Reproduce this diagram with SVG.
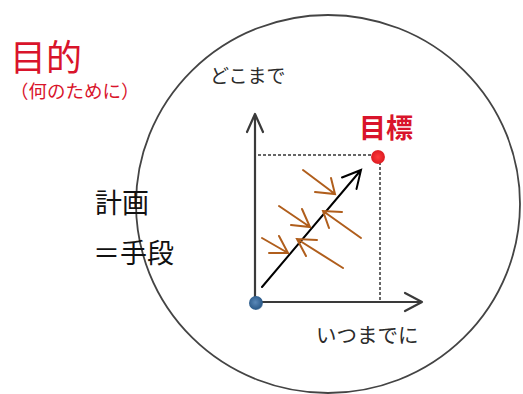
<svg xmlns="http://www.w3.org/2000/svg" width="523" height="394" viewBox="0 0 523 394">
<style>
.jp{font-family:"Noto Sans CJK JP","Noto Sans CJK SC",sans-serif}
.red{fill:#D9142B}
.dark{fill:#2b2b2b}
.axis{stroke:#3a3a3a;stroke-width:2.2;fill:none;stroke-linecap:round;stroke-linejoin:round}
.dot{stroke:#666;stroke-width:2;stroke-dasharray:3 2;fill:none}
.br{stroke:#B05E1C;stroke-width:2;fill:none;stroke-linecap:round}
.blk{stroke:#000;stroke-width:2;fill:none;stroke-linecap:round}
</style>
<defs>
<radialGradient id="gb" cx="0.45" cy="0.45" r="0.6">
<stop offset="0" stop-color="#5A88B8"/>
<stop offset="0.8" stop-color="#2E5D8C"/>
<stop offset="1" stop-color="#2E5D8C" stop-opacity="0.5"/>
</radialGradient>
<radialGradient id="gr" cx="0.5" cy="0.5" r="0.6">
<stop offset="0" stop-color="#FF3A3A"/>
<stop offset="0.75" stop-color="#E01E24"/>
<stop offset="1" stop-color="#E01E24" stop-opacity="0.4"/>
</radialGradient>
</defs>
<rect width="523" height="394" fill="#fff"/>
<g id="circle"><ellipse cx="328" cy="204" rx="192" ry="189" fill="none" stroke="#444" stroke-width="1.8"/></g>
<g id="title"><text class="jp red" x="10" y="71" font-size="36">目的</text>
<text class="jp red" x="10" y="98" font-size="18.5">（何のために）</text></g>
<g id="plan"><text class="jp" fill="#111" x="95" y="213" font-size="27">計画</text>
<text class="jp" fill="#111" x="93" y="263" font-size="27">＝手段</text></g>
<g id="ylabel"><text class="jp dark" x="210" y="83" font-size="19">どこまで</text></g>
<g id="xlabel"><text class="jp dark" x="316" y="343" font-size="20.5">いつまでに</text></g>
<g id="goal-label"><text class="jp red" x="359" y="138" font-size="27" font-weight="bold">目標</text></g>
<g id="connectors">
<line class="dot" x1="258" y1="155" x2="374" y2="155"/>
<line class="dot" x1="380" y1="162" x2="380" y2="302"/>
<path class="axis" d="M255,302 V114 M247,132 L255,114 L263,132"/>
<path class="axis" d="M255,302 H422 M405,293 L422,302 L405,311"/>
<path class="blk" d="M262,287 L361,170 M342,177.5 L361,170 L356.5,189"/>
<path class="br" d="M303,170 L335,194 M331,178 L335,194 L315,192"/>
<path class="br" d="M279,206 L310,227 M302,209 L310,227 L291,225"/>
<path class="br" d="M262,238 L288,253 M279,236 L288,253 L269,253"/>
<path class="br" d="M361,238 L323,211 M342,212 L323,211 L329,228"/>
<path class="br" d="M343,268 L297,239 M317,240 L297,239 L306,256"/>
</g>
<g id="origin"><circle cx="256" cy="303" r="7" fill="url(#gb)"/></g>
<g id="goal"><circle cx="378" cy="157" r="7" fill="url(#gr)"/></g>
</svg>
